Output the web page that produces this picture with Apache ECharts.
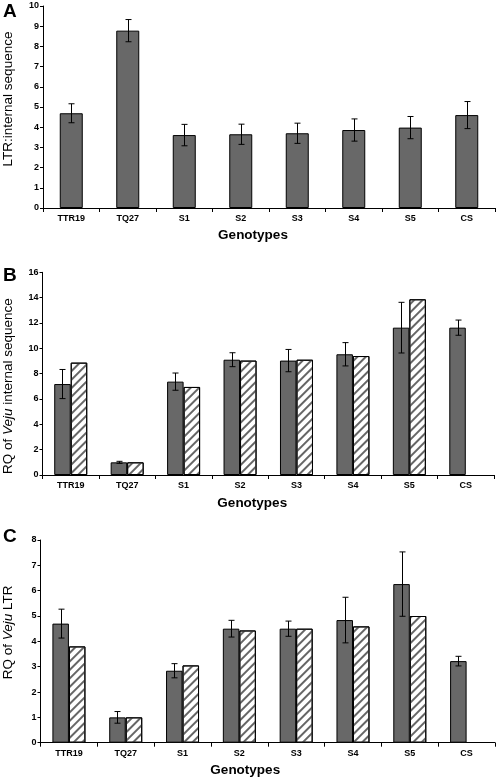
<!DOCTYPE html>
<html><head><meta charset="utf-8">
<script src="https://cdn.jsdelivr.net/npm/echarts@6/dist/echarts.min.js"></script>
<style>html,body{margin:0;padding:0;background:#fff}#c{width:498px;height:780px}</style>
</head><body><div id="c"></div>
<script>
const categories = ['TTR19','TQ27','S1','S2','S3','S4','S5','CS'];
// Panel A
const aValues = [4.69, 8.78, 3.61, 3.65, 3.70, 3.86, 3.98, 4.60];
const aErrors = [0.47, 0.55, 0.53, 0.50, 0.50, 0.55, 0.55, 0.67];
// Panel B
const bDark = [7.18, 1.0, 7.37, 9.10, 9.03, 9.53, 11.63, 11.63];
const bDarkErr = [1.15, 0.08, 0.68, 0.55, 0.88, 0.92, 2.0, 0.6];
const bHatch = [8.87, 1.0, 6.95, 9.03, 9.10, 9.39, 13.87, null];
// Panel C
const cDark = [4.70, 1.0, 2.84, 4.50, 4.50, 4.84, 6.26, 3.22];
const cDarkErr = [0.57, 0.23, 0.28, 0.33, 0.30, 0.90, 1.27, 0.19];
const cHatch = [3.80, 1.0, 3.05, 4.43, 4.50, 4.59, 5.0, null];
const aTicks = {min:0, max:10, interval:1};
const bTicks = {min:0, max:16, interval:2};
const cTicks = {min:0, max:8, interval:1};

const FONT = 'Liberation Sans, Arial, sans-serif';
const DARK = '#686868';

function errData(vals, errs){ return vals.map((v,i)=>[i, v, errs[i]]); }
function errSeries(idx, vals, errs, offset){
  return {
    type:'custom', xAxisIndex:idx, yAxisIndex:idx, z:10, silent:true,
    data: errData(vals, errs),
    renderItem: function(params, api){
      const x = api.value(0), v = api.value(1), e = api.value(2);
      const hi = api.coord([x, v+e]);
      const lo = api.coord([x, v-e]);
      const cx = Math.round(hi[0] + offset) + 0.5;
      const st = {stroke:'#000', lineWidth:1};
      return {type:'group', children:[
        {type:'line', shape:{x1:cx, y1:hi[1], x2:cx, y2:lo[1]}, style:st},
        {type:'line', shape:{x1:cx-3, y1:hi[1], x2:cx+3, y2:hi[1]}, style:st},
        {type:'line', shape:{x1:cx-3, y1:lo[1], x2:cx+3, y2:lo[1]}, style:st}
      ]};
    }
  };
}

function xAxis(idx, pad, gap){
  return {
    type:'category', gridIndex:idx, data:categories,
    axisLine:{lineStyle:{color:'#000', width:1}},
    axisTick:{show:true, alignWithLabel:false, length:4, lineStyle:{color:'#000'}},
    axisLabel:{color:'#000', fontFamily:FONT, fontWeight:'bold', fontSize:9, margin:6},
    name:'Genotypes', nameLocation:'middle', nameGap:gap,
    nameTextStyle:{color:'#000', fontFamily:FONT, fontWeight:'bold', fontSize:13.5, padding:pad}
  };
}
function yAxis(idx, t, name, gap, pad){
  return {
    type:'value', gridIndex:idx, min:t.min, max:t.max, interval:t.interval,
    splitLine:{show:false},
    axisLine:{show:true, lineStyle:{color:'#000', width:1}},
    axisTick:{show:true, length:3, lineStyle:{color:'#000'}},
    axisLabel:{color:'#000', fontFamily:FONT, fontWeight:'bold', fontSize:9, margin:4},
    name:name, nameLocation:'middle', nameGap:gap, nameRotate:90,
    nameTextStyle:{color:'#000', fontFamily:FONT, fontSize:13.5, padding:pad,
      rich:{i:{fontStyle:'italic', fontFamily:FONT, fontSize:13.5, color:'#000'}}}
  };
}
const decal = {symbol:'rect', symbolSize:1, dashArrayX:[1,0], dashArrayY:[1.3,3.7], rotation:-Math.PI/4, color:'#666'};
const barItem = {color:DARK, borderColor:'#000', borderWidth:1};
const hatchItem = {color:'#fff', borderColor:'#000', borderWidth:1, decal:decal};

const chart = echarts.init(document.getElementById('c'), null, {renderer:'canvas'});
chart.setOption({
  animation:false,
  backgroundColor:'#fff',
  grid:[
    {left:43, right:3, top:6, height:202, containLabel:false, outerBoundsMode:'none'},
    {left:42.5, right:4, top:272.3, height:202.7, containLabel:false, outerBoundsMode:'none'},
    {left:40.5, right:3, top:540, height:202.7, containLabel:false, outerBoundsMode:'none'}
  ],
  xAxis:[xAxis(0,[0,32,0,0],20), xAxis(1,[0,32,0,0],21), xAxis(2,[0,45,0,0],21)],
  yAxis:[
    yAxis(0, aTicks, 'LTR:internal sequence', 28, [0,0,0,16]),
    yAxis(1, bTicks, 'RQ of {i|Veju} internal sequence', 27.5, [0,25,0,0]),
    yAxis(2, cTicks, 'RQ of {i|Veju} LTR', 25.5, [0,0,0,18])
  ],
  graphic:[
    {type:'text', left:3, top:2, style:{text:'A', font:'bold 19px '+FONT, fill:'#000'}},
    {type:'text', left:3, top:266, style:{text:'B', font:'bold 19px '+FONT, fill:'#000'}},
    {type:'text', left:3, top:527, style:{text:'C', font:'bold 19px '+FONT, fill:'#000'}}
  ],
  series:[
    {type:'bar', xAxisIndex:0, yAxisIndex:0, data:aValues, barWidth:23, itemStyle:barItem},
    errSeries(0, aValues, aErrors, 0),
    {type:'bar', xAxisIndex:1, yAxisIndex:1, data:bDark, barWidth:16.5, barGap:'0%', itemStyle:barItem},
    {type:'bar', xAxisIndex:1, yAxisIndex:1, data:bHatch, barWidth:16.5, barGap:'0%', itemStyle:hatchItem},
    errSeries(1, bDark, bDarkErr, -8.25),
    {type:'bar', xAxisIndex:2, yAxisIndex:2, data:cDark, barWidth:16.5, barGap:'0%', itemStyle:barItem},
    {type:'bar', xAxisIndex:2, yAxisIndex:2, data:cHatch, barWidth:16.5, barGap:'0%', itemStyle:hatchItem},
    errSeries(2, cDark, cDarkErr, -8.25)
  ]
});
</script></body></html>
